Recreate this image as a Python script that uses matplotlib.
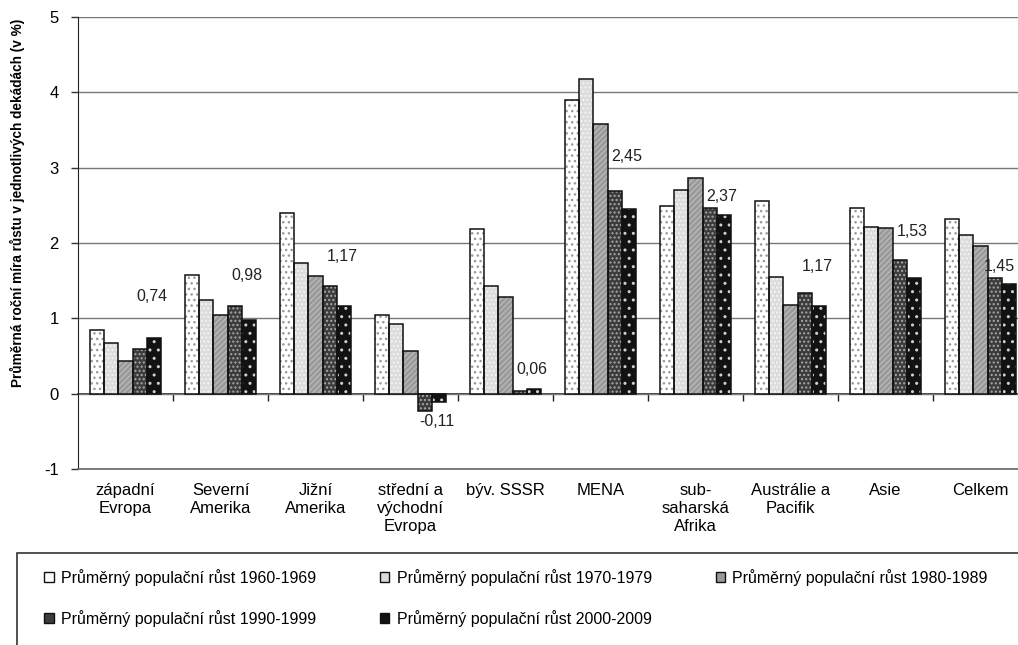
import matplotlib
matplotlib.use('Agg')
import matplotlib.pyplot as plt
from matplotlib.patches import Patch, Rectangle

plt.rcParams['font.family'] = ['Liberation Sans', 'DejaVu Sans']
plt.rcParams['hatch.linewidth'] = 1.0
plt.rcParams['axes.unicode_minus'] = False

regions = ['západní\nEvropa', 'Severní\nAmerika', 'Jižní\nAmerika',
           'střední a\nvýchodní\nEvropa', 'býv. SSSR', 'MENA',
           'sub-\nsaharská\nAfrika', 'Austrálie a\nPacifik', 'Asie', 'Celkem']

g1960 = [0.84, 1.57, 2.40, 1.04, 2.19, 3.90, 2.49, 2.56, 2.46, 2.32]
g1970 = [0.67, 1.24, 1.74, 0.92, 1.43, 4.18, 2.70, 1.55, 2.21, 2.11]
g1980 = [0.44, 1.05, 1.56, 0.57, 1.28, 3.58, 2.86, 1.18, 2.20, 1.96]
g1990 = [0.59, 1.16, 1.43, -0.23, 0.03, 2.69, 2.47, 1.34, 1.78, 1.54]
g2000 = [0.74, 0.98, 1.17, -0.11, 0.06, 2.45, 2.37, 1.17, 1.53, 1.45]

series = [g1960, g1970, g1980, g1990, g2000]
names = ['Průměrný populační růst 1960-1969', 'Průměrný populační růst 1970-1979',
         'Průměrný populační růst 1980-1989', 'Průměrný populační růst 1990-1999',
         'Průměrný populační růst 2000-2009']

# styles (face, hatch, hatch colour)
faces = ['#ffffff', '#dcdcdc', '#999999', '#3c3c3c', '#121212']
hatches = ['...', '....', '//////', '....', '..']
hcols = ['#9a9a9a', '#f4f4f4', '#b8b8b8', '#a8a8a8', '#d0d0d0']

# where the manual data labels sit (x offset, y in data units)
label_dx = [0.28, 0.28, 0.28, 0.28, 0.28, 0.28, 0.28, 0.28, 0.28, 0.2]
label_y = [1.29, 1.57, 1.82, -0.37, 0.32, 3.15, 2.62, 1.69, 2.15, 1.69]

fig = plt.figure(figsize=(10.18, 6.45), dpi=100)
ax = fig.add_axes([78/1018, 1-469/645, 950/1018, 452/645])

x = list(range(len(regions)))
w = 0.15
for j in range(5):
    pos = [i + (j-2)*w for i in x]
    ax.bar(pos, series[j], w, color=faces[j], hatch=hatches[j], edgecolor=hcols[j], lw=0, zorder=2)
    ax.bar(pos, series[j], w, fill=False, edgecolor='#111111', lw=1.1, zorder=3)

for i in x:
    ax.text(i + label_dx[i], label_y[i], ('%.2f' % g2000[i]).replace('.', ','),
            ha='center', va='center', fontsize=11.5, color='#222222')

ax.set_xlim(-0.5, 9.5)
ax.set_ylim(-1, 5)
ax.set_yticks([-1, 0, 1, 2, 3, 4, 5])
ax.yaxis.grid(True, color='#777777', lw=1)
ax.set_axisbelow(True)
ax.tick_params(axis='y', length=5, width=1, pad=9, labelsize=12, color='#333333')
ax.set_xticks(x)
ax.set_xticklabels(regions, fontsize=12, linespacing=1.25)
ax.tick_params(axis='x', length=0, pad=10)

ax.spines['right'].set_visible(False)
ax.spines['top'].set_visible(False)
ax.spines['left'].set_color('#222222')
ax.spines['bottom'].set_color('#666666')
ax.spines['bottom'].set_linewidth(1.2)

# zero line with category separators
zax = ax.secondary_xaxis(1/6)
zax.set_xticks([i + 0.5 for i in x[:-1]])
zax.set_xticklabels([])
zax.tick_params(direction='out', length=5, width=1, color='#222222')
zax.spines['bottom'].set_color('#222222')
zax.spines['bottom'].set_linewidth(1.2)

fig.text(17/1018, 1-203/645, 'Průměrná roční míra růstu v jednotlivých dekádách (v %)',
         rotation=90, ha='center', va='center', fontsize=9.8, fontweight='bold')

fig.patches.append(Rectangle((17/1018, -0.1), 1.1, 0.1 + 1 - 553/645, transform=fig.transFigure,
                             fill=False, edgecolor='#333333', lw=1.2))

handles = [Patch(facecolor=faces[j], edgecolor='#111111', lw=1.0) for j in range(5)]
order = [0, 3, 1, 4, 2]
fig.legend([handles[k] for k in order], [names[k] for k in order], ncol=3,
           loc='upper left', bbox_to_anchor=(44/1018, 1-569/645), frameon=False,
           fontsize=11.5, handlelength=0.6, handleheight=0.6, handletextpad=0.45,
           columnspacing=4.0, labelspacing=1.5, borderpad=0, borderaxespad=0)

fig.savefig('out.png', dpi=100)
